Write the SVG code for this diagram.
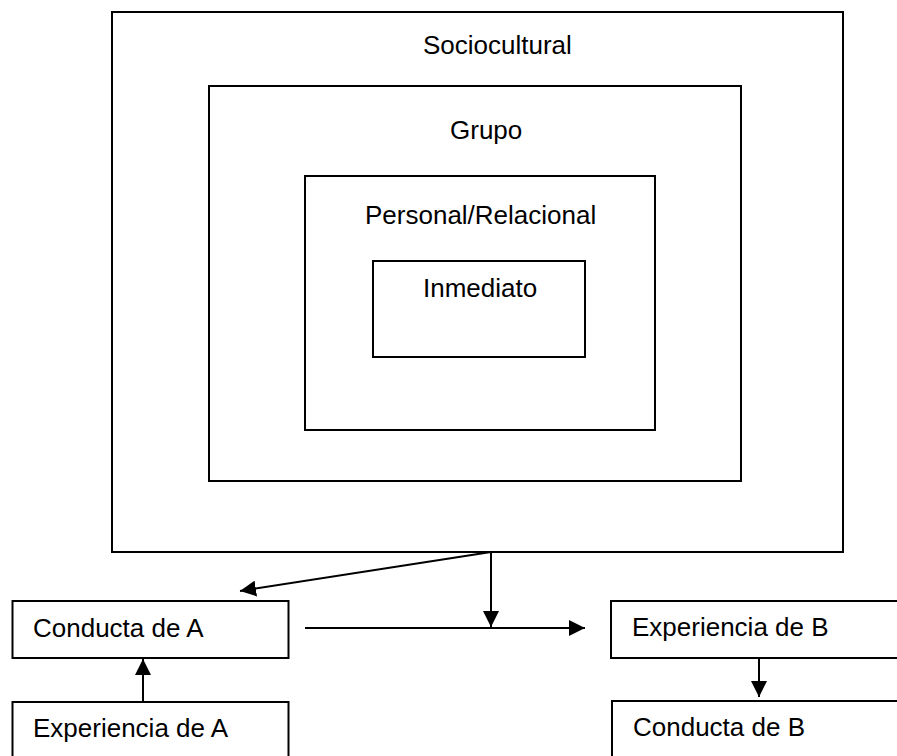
<svg xmlns="http://www.w3.org/2000/svg" width="897" height="756" viewBox="0 0 897 756">
  <style>
    .box { fill: none; stroke: #000; stroke-width: 2; }
    .lbl { font-family: "Liberation Sans", Arial, sans-serif; font-size: 26px; fill: #000; }
    .edge { stroke: #000; stroke-width: 2; fill: none; marker-end: url(#arrow); }
  </style>
  <defs>
    <marker id="arrow" markerUnits="userSpaceOnUse" markerWidth="16" markerHeight="16" refX="16" refY="8" orient="auto">
      <path d="M0,0 L16,8 L0,16 z" fill="#000"/>
    </marker>
  </defs>
  <rect width="897" height="756" fill="#fff"/>

  <!-- Nested context levels -->
  <g id="sociocultural">
    <rect class="box" x="112" y="12" width="731" height="540"/>
    <text class="lbl" x="423" y="54">Sociocultural</text>
  </g>
  <g id="grupo">
    <rect class="box" x="209" y="86" width="532" height="395"/>
    <text class="lbl" x="450" y="139">Grupo</text>
  </g>
  <g id="personal">
    <rect class="box" x="305" y="176" width="350" height="254"/>
    <text class="lbl" x="365" y="224">Personal/Relacional</text>
  </g>
  <g id="inmediato">
    <rect class="box" x="373" y="261" width="212" height="96"/>
    <text class="lbl" x="423" y="297">Inmediato</text>
  </g>

  <!-- Interaction boxes -->
  <g id="conducta-a">
    <rect class="box" x="12.5" y="601" width="276" height="57"/>
    <text class="lbl" x="33" y="637">Conducta de A</text>
  </g>
  <g id="experiencia-a">
    <rect class="box" x="12.5" y="702" width="276" height="60"/>
    <text class="lbl" x="33" y="737">Experiencia de A</text>
  </g>
  <g id="experiencia-b">
    <rect class="box" x="611" y="601" width="300" height="57"/>
    <text class="lbl" x="632" y="636">Experiencia de B</text>
  </g>
  <g id="conducta-b">
    <rect class="box" x="612" y="701" width="300" height="70"/>
    <text class="lbl" x="633" y="736">Conducta de B</text>
  </g>

  <!-- Connectors -->
  <g id="connectors">
    <line class="edge" x1="491" y1="552" x2="240" y2="591"/>
    <line class="edge" x1="491" y1="552" x2="491" y2="627"/>
    <line class="edge" x1="305" y1="628" x2="585" y2="628"/>
    <line class="edge" x1="143" y1="702" x2="143" y2="659"/>
    <line class="edge" x1="759" y1="658" x2="759" y2="697"/>
  </g>
</svg>
